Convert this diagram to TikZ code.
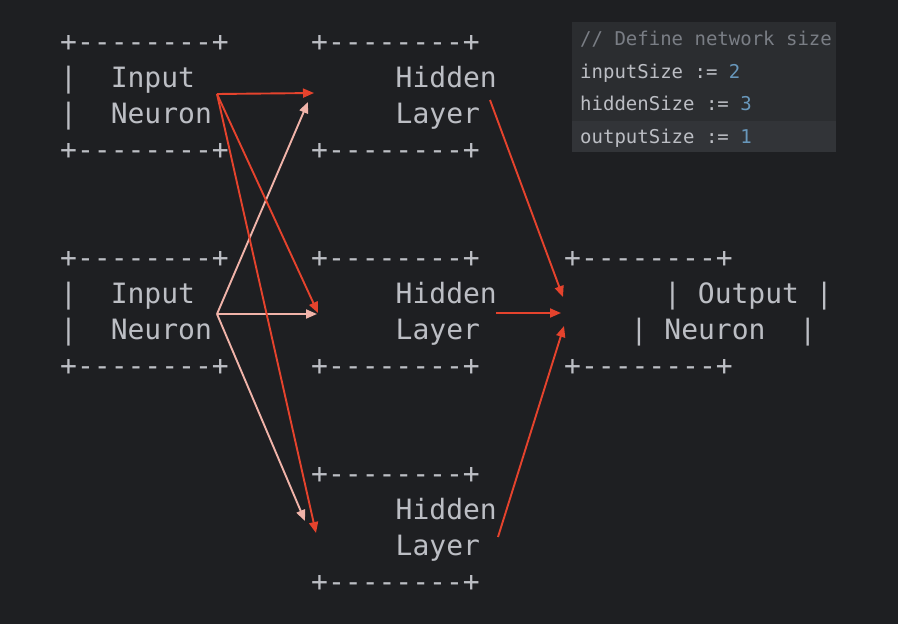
\documentclass[tikz,border=0pt]{standalone}
\usepackage{fontspec}
\setmonofont{DejaVu Sans Mono}
\usetikzlibrary{arrows.meta}
\definecolor{bg}{HTML}{1E1F22}
\definecolor{fg}{HTML}{BCBEC4}
\definecolor{boxbg}{HTML}{2B2D30}
\definecolor{rowhl}{HTML}{323438}
\definecolor{cmt}{HTML}{7A7E85}
\definecolor{num}{HTML}{6897BB}
\definecolor{redar}{HTML}{E5432D}
\definecolor{pinkar}{HTML}{F0B3A9}
\tikzset{
  ascii/.style={font=\ttfamily\fontsize{28}{28}\selectfont, text=fg, anchor=base west, inner sep=0pt},
  code/.style={font=\ttfamily\fontsize{19}{19}\selectfont, text=fg, anchor=base west, inner sep=0pt},
  redarrow/.style={draw=redar, line width=1.9pt, -{Triangle[length=11pt,width=9pt]}},
  pinkarrow/.style={draw=pinkar, line width=1.9pt, -{Triangle[length=11pt,width=9pt]}},
}
\begin{document}
\begin{tikzpicture}[x=1pt,y=-1pt]
\fill[bg] (0,0) rectangle (898,624);
\useasboundingbox (0,0) rectangle (898,624);

% code box
\fill[boxbg] (572,22) rectangle (836,152);
\fill[rowhl] (572,121) rectangle (836,152);
\node[code, text=cmt] (c0) at (580,45) {// Define network size};
\node[code] (c1) at (580,78) {inputSize := \textcolor{num}{2}};
\node[code] (c2) at (580,110) {hiddenSize := \textcolor{num}{3}};
\node[code] (c3) at (580,143) {outputSize := \textcolor{num}{1}};

% input neuron 1
\node[ascii] (i1t) at (60,51) {+--------+};
\node[ascii] (i1a) at (60,87) {|~~Input};
\node[ascii] (i1b) at (60,123) {|~~Neuron};
\node[ascii] (i1d) at (60,159) {+--------+};
% input neuron 2
\node[ascii] (i2t) at (60,267) {+--------+};
\node[ascii] (i2a) at (60,303) {|~~Input};
\node[ascii] (i2b) at (60,339) {|~~Neuron};
\node[ascii] (i2d) at (60,375) {+--------+};
% hidden 1
\node[ascii] (h1t) at (311,51) {+--------+};
\node[ascii] (h1a) at (395.5,87) {Hidden};
\node[ascii] (h1b) at (395.5,123) {Layer};
\node[ascii] (h1d) at (311,159) {+--------+};
% hidden 2
\node[ascii] (h2t) at (311,267) {+--------+};
\node[ascii] (h2a) at (395.5,303) {Hidden};
\node[ascii] (h2b) at (395.5,339) {Layer};
\node[ascii] (h2d) at (311,375) {+--------+};
% hidden 3
\node[ascii] (h3t) at (311,483) {+--------+};
\node[ascii] (h3a) at (395.5,519) {Hidden};
\node[ascii] (h3b) at (395.5,555) {Layer};
\node[ascii] (h3d) at (311,591) {+--------+};
% output
\node[ascii] (ot) at (564,267) {+--------+};
\node[ascii] (oa) at (664,303) {|~Output~|};
\node[ascii] (ob) at (630.5,339) {|~Neuron~~|};
\node[ascii] (od) at (564,375) {+--------+};

% connector end points
\coordinate (s1) at (217,94);
\coordinate (s2) at (217,314);
\coordinate (e11) at (314,93);
\coordinate (e12) at (318,313);
\coordinate (e13) at (316,533);
\coordinate (e21) at (308,102);
\coordinate (e22) at (317,314);
\coordinate (e23) at (305,521);
\coordinate (hs1) at (490,100);
\coordinate (hs2) at (496,313);
\coordinate (hs3) at (498,537);
\coordinate (oe1) at (563,297);
\coordinate (oe2) at (561,313);
\coordinate (oe3) at (564,326);

\draw[pinkarrow] (s2) -- (e21);
\draw[pinkarrow] (s2) -- (e22);
\draw[pinkarrow] (s2) -- (e23);
\draw[redarrow] (s1) -- (e11);
\draw[redarrow] (s1) -- (e12);
\draw[redarrow] (s1) -- (e13);
\draw[redarrow] (hs1) -- (oe1);
\draw[redarrow] (hs2) -- (oe2);
\draw[redarrow] (hs3) -- (oe3);
\end{tikzpicture}
\end{document}
